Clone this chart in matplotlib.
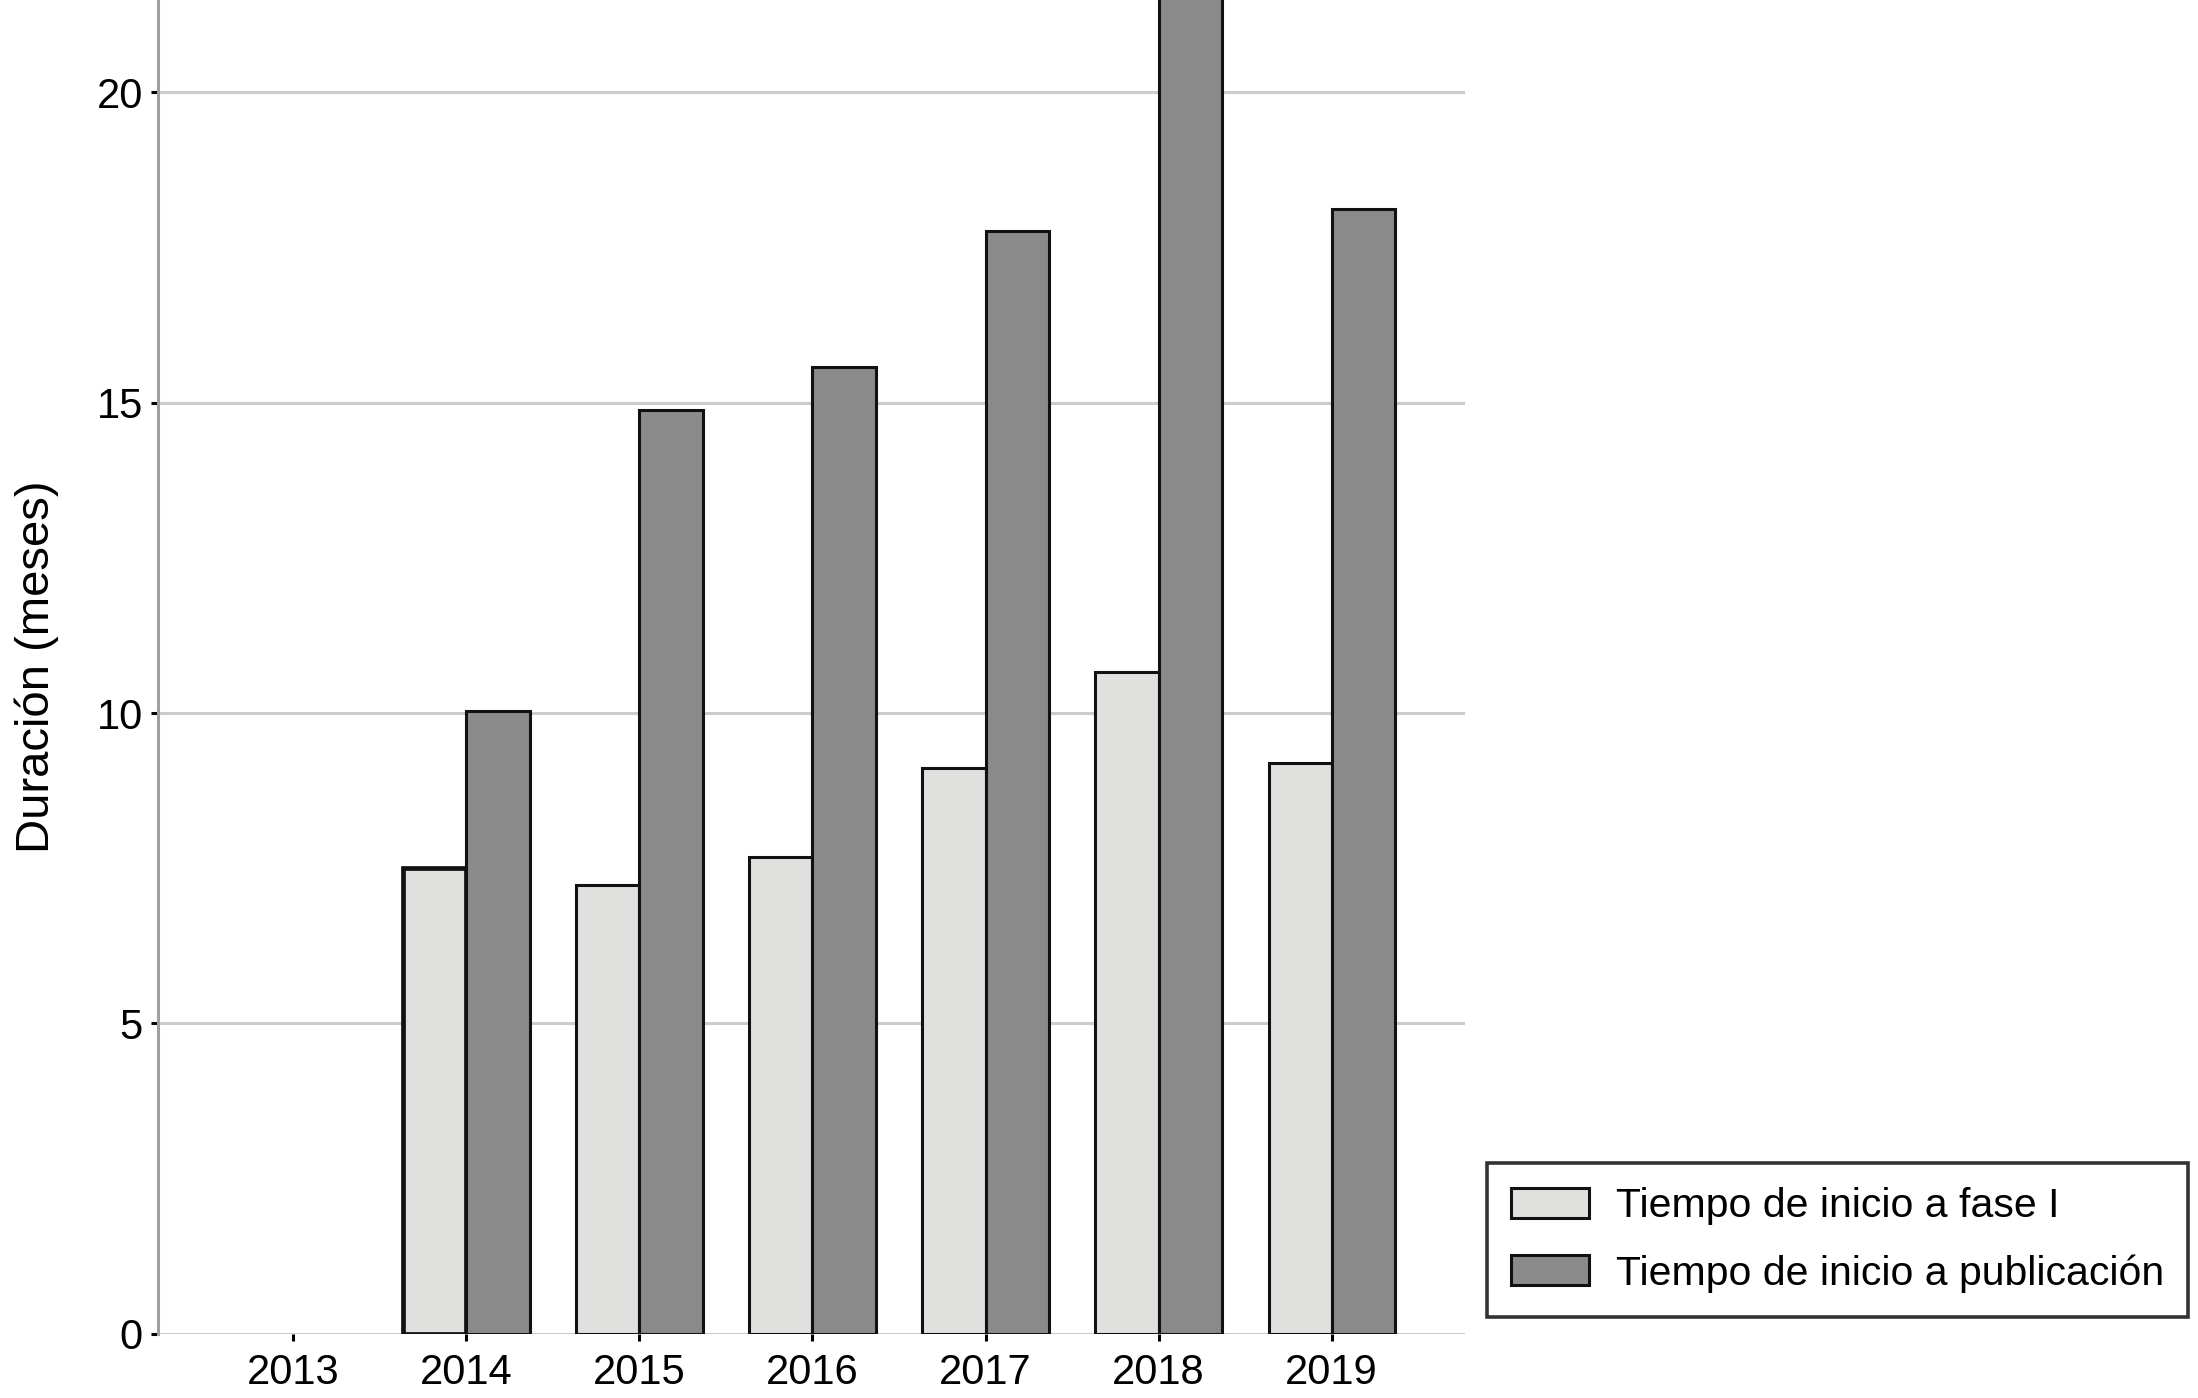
import matplotlib
matplotlib.use("Agg")
import matplotlib.pyplot as plt
from matplotlib.patches import Patch
import numpy as np

years = ["2013", "2014", "2015", "2016", "2017", "2018", "2019"]
fase_i = [0.0, 7.5, 7.23, 7.68, 9.11, 10.67, 9.2]
publicacion = [0.0, 10.03, 14.89, 15.57, 17.76, 21.6, 18.12]
series_labels = ["Tiempo de inicio a fase I", "Tiempo de inicio a publicación"]
yticks = [0, 5, 10, 15, 20]

plt.rcParams['font.family'] = ['Liberation Sans', 'DejaVu Sans']

fig = plt.figure(figsize=(21.98, 13.98), dpi=100)
ax = fig.add_axes([0.072, 0.046, 0.5945, 0.954])

x = np.arange(len(years))
w = 0.365
light = "#e0e0de"
dark = "#8a8a8a"
mask = np.array(fase_i) > 0
b1 = ax.bar(x[mask] - w / 2, np.array(fase_i)[mask], width=w, color=light,
            edgecolor="#111111", linewidth=2.2, zorder=3)
b2 = ax.bar(x[mask] + w / 2, np.array(publicacion)[mask], width=w, color=dark,
            edgecolor="#111111", linewidth=2.2, zorder=3)
b1[0].set_linewidth(3.4)

ax.set_xlim(-0.78, 6.77)
ax.set_ylim(0, 21.49)
ax.set_xticks(x)
ax.set_xticklabels(years)
ax.set_yticks(yticks)
ax.yaxis.grid(True, color="#cccccc", linewidth=2.2, zorder=0)
ax.set_axisbelow(True)

for s in ["top", "right", "bottom"]:
    ax.spines[s].set_visible(False)
ax.spines["left"].set_color("#a0a0a0")
ax.spines["left"].set_linewidth(2.2)
ax.tick_params(axis="both", labelsize=30, color="black", width=2.2, length=5, pad=6)
ax.tick_params(axis="x", pad=9)
ax.set_ylabel("Duración (meses)", fontsize=34, labelpad=27)

handles = [Patch(facecolor=light, edgecolor="#111111", linewidth=2.2),
           Patch(facecolor=dark, edgecolor="#111111", linewidth=2.2)]
leg = fig.legend(handles=handles, labels=series_labels,
                 loc="center", bbox_to_anchor=(0.836, 0.113),
                 frameon=True, fancybox=False, edgecolor="black",
                 handlelength=1.9, handleheight=0.75, handletextpad=0.65,
                 borderpad=0.6, labelspacing=0.7, borderaxespad=0,
                 prop={'family': ['Liberation Sans'], 'size': 29.5})
leg.get_frame().set_linewidth(2.6)
for t in leg.get_texts():
    t.set_x(0)

fig.savefig("out.png", dpi=100)
